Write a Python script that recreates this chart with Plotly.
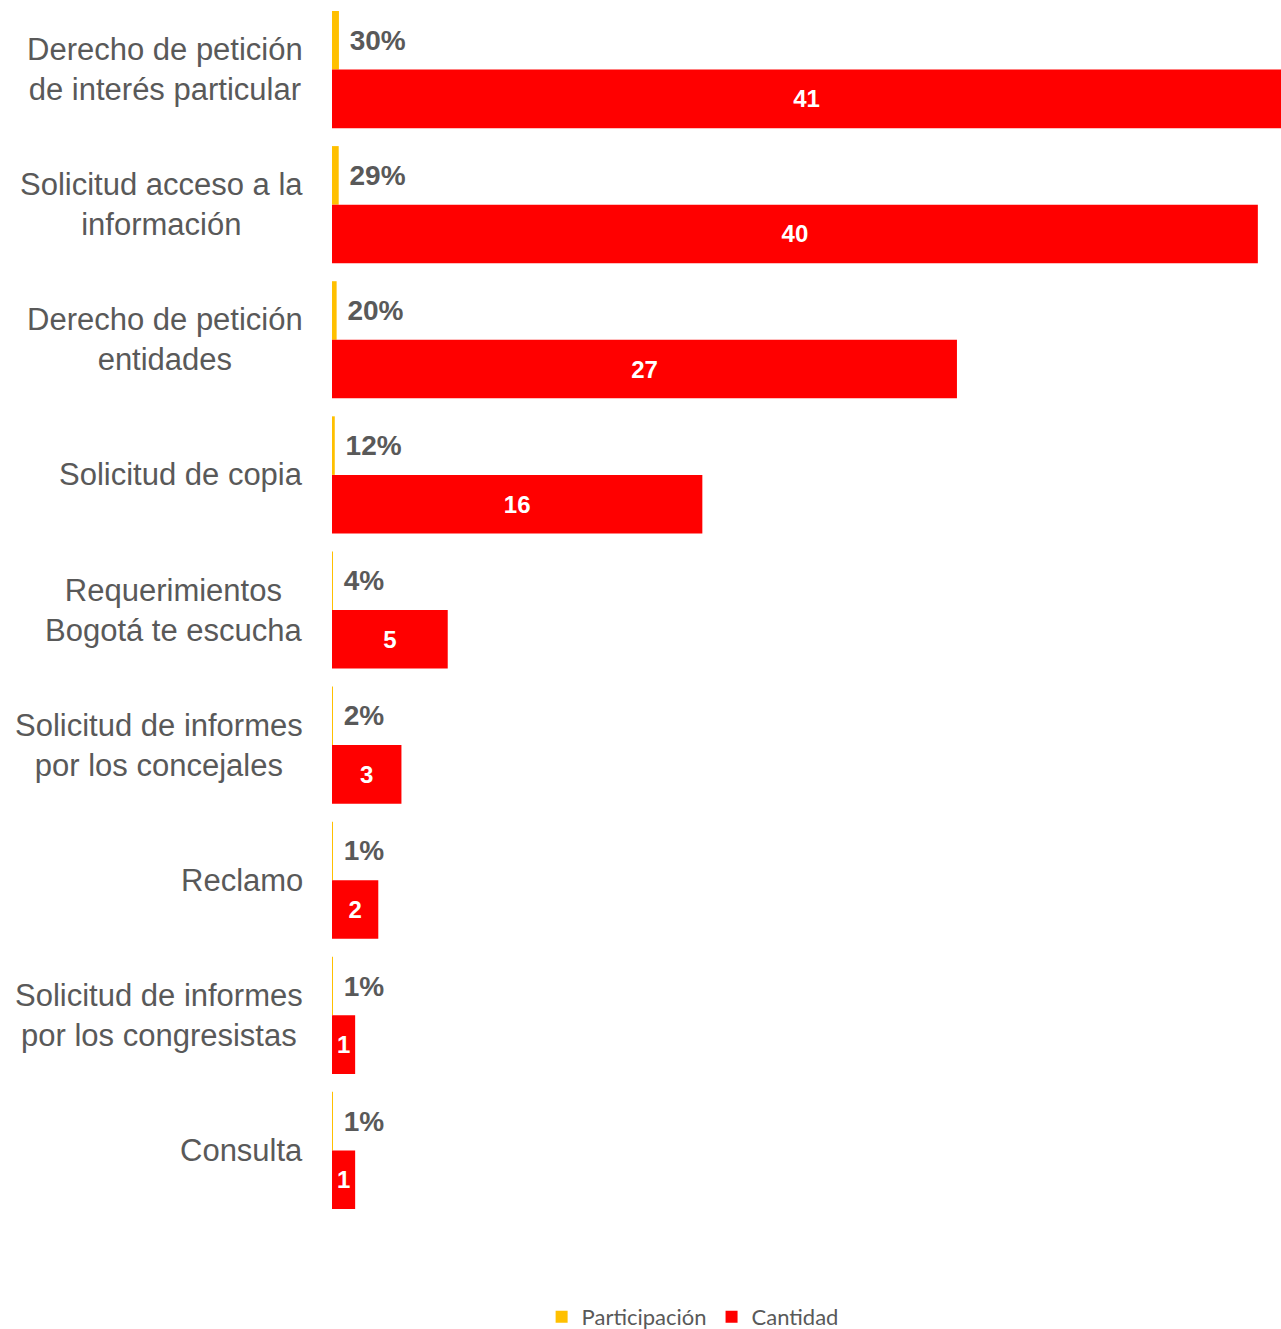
import plotly.graph_objects as go

categories = [
    "Derecho de petición<br>de interés particular",
    "Solicitud acceso a la<br>información",
    "Derecho de petición<br>entidades",
    "Solicitud de copia",
    "Requerimientos<br>Bogotá te escucha",
    "Solicitud de informes<br>por los concejales",
    "Reclamo",
    "Solicitud de informes<br>por los congresistas",
    "Consulta",
]
participacion = [0.30, 0.29, 0.20, 0.12, 0.04, 0.02, 0.01, 0.01, 0.01]
cantidad = [41, 40, 27, 16, 5, 3, 2, 1, 1]

ids = list(range(len(categories)))

fig = go.Figure()
fig.add_trace(go.Bar(
    y=ids, x=participacion, orientation="h", name="Participación",
    marker=dict(color="#FFC000", line=dict(width=0)),
    texttemplate="\u00a0%{x:.0%}", textposition="outside",
    textfont=dict(family="Liberation Sans", size=28, color="#595959", weight="bold"),
    constraintext="none",
    cliponaxis=False,
))
fig.add_trace(go.Bar(
    y=ids, x=cantidad, orientation="h", name="Cantidad",
    marker=dict(color="#FF0000", line=dict(width=0)),
    text=[str(v) for v in cantidad], textposition="inside", insidetextanchor="middle",
    textfont=dict(family="Liberation Sans", size=24, color="#FFFFFF", weight="bold"),
    constraintext="none",
    cliponaxis=False,
))

for i, c in enumerate(categories):
    fig.add_annotation(
        x=0, xref="paper", xanchor="right", xshift=-27,
        y=i, yref="y", yanchor="middle",
        text=c, showarrow=False, align="center",
        font=dict(family="Liberation Sans", size=31, color="#595959"),
    )

fig.update_layout(
    width=1281, height=1329,
    margin=dict(l=332, r=0, t=2, b=111, autoexpand=False),
    barmode="group", bargap=0.133, bargroupgap=0,
    plot_bgcolor="white", paper_bgcolor="white",
    showlegend=True,
    legend=dict(orientation="h", x=0.380, xanchor="center",
                yref="container", y=0.009, yanchor="middle",
                font=dict(family="Lato", size=22, color="#595959"),
                itemwidth=30, traceorder="normal"),
    xaxis=dict(range=[0, 41], visible=False, showgrid=False, zeroline=False),
    yaxis=dict(autorange="reversed", showticklabels=False, showgrid=False,
               zeroline=False, ticks="", showline=False),
)

fig.write_html("out.html")
